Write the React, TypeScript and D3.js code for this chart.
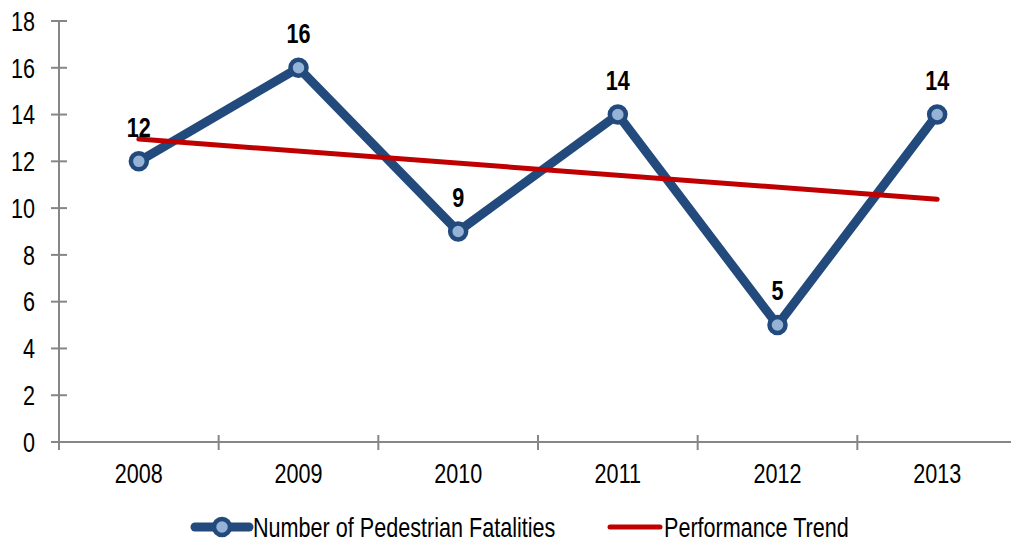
import React, { useEffect, useRef } from "react";
import * as d3 from "d3";

const years = ["2008", "2009", "2010", "2011", "2012", "2013"];
const fatalities = [12, 16, 9, 14, 5, 14];
// trend line end points (first and last year)
const trendYears = ["2008", "2013"];
const trendValues = [12.95, 10.38];
const yTicks = [0, 2, 4, 6, 8, 10, 12, 14, 16, 18];
const legendLabels = ["Number of Pedestrian Fatalities", "Performance Trend"];

const W = 1011;
const H = 542;
const FONT = "'Liberation Sans', Arial, sans-serif";
const SQUEEZE = 0.8; // fake a narrow face
const FS = 27;
const BLUE = "#234A7C";
const LIGHT = "#95B3D7";
const RED = "#C00000";
const AXIS = "#868686";

const App = () => {
  const ref = useRef<SVGSVGElement>(null);

  useEffect(() => {
    const svg = d3.select(ref.current);
    svg.selectAll("*").remove();

    const left = 59, right = 1017, top = 21, bottom = 442;
    const x = d3.scaleBand().domain(years).range([left, right]);
    const y = d3.scaleLinear().domain([0, 18]).range([bottom, top]);
    const cx = (d: string) => (x(d) as number) + x.bandwidth() / 2;

    const label = (sel: any, px: (d: any, i: number) => number, py: (d: any, i: number) => number, anchor: string) =>
      sel
        .attr("transform", (d: any, i: number) => `translate(${px(d, i)},${py(d, i)}) scale(${SQUEEZE},1)`)
        .attr("dy", "0.36em").attr("text-anchor", anchor)
        .attr("font-family", FONT).attr("font-size", FS).attr("fill", "#000");

    // y axis
    svg.append("line")
      .attr("x1", left).attr("x2", left).attr("y1", top).attr("y2", bottom)
      .attr("stroke", AXIS).attr("stroke-width", 2);
    svg.selectAll("line.ytick").data(yTicks).enter().append("line")
      .attr("class", "ytick")
      .attr("x1", left - 8).attr("x2", left + 8)
      .attr("y1", d => y(d)).attr("y2", d => y(d))
      .attr("stroke", AXIS).attr("stroke-width", 2);
    label(svg.selectAll("text.ylab").data(yTicks).enter().append("text").attr("class", "ylab"),
      () => left - 24, d => y(d), "end")
      .text((d: number) => d);

    // x axis
    svg.append("line")
      .attr("x1", left - 8).attr("x2", W).attr("y1", bottom).attr("y2", bottom)
      .attr("stroke", AXIS).attr("stroke-width", 2);
    const bounds = years.map(d => x(d) as number).concat([right]);
    svg.selectAll("line.xtick").data(bounds).enter().append("line")
      .attr("class", "xtick")
      .attr("x1", d => d).attr("x2", d => d)
      .attr("y1", bottom - 7).attr("y2", bottom + 8)
      .attr("stroke", AXIS).attr("stroke-width", 2);
    label(svg.selectAll("text.xlab").data(years).enter().append("text").attr("class", "xlab"),
      d => cx(d), () => bottom + 31, "middle")
      .text((d: string) => d);

    // series
    const line = d3.line<number>()
      .x((d, i) => cx(years[i]))
      .y(d => y(d));
    svg.append("path")
      .datum(fatalities)
      .attr("d", line)
      .attr("fill", "none").attr("stroke", BLUE)
      .attr("stroke-width", 9).attr("stroke-linejoin", "round");

    const trendLine = d3.line<number>()
      .x((d, i) => cx(trendYears[i]))
      .y(d => y(d));
    svg.append("path")
      .datum(trendValues)
      .attr("d", trendLine)
      .attr("fill", "none").attr("stroke", RED)
      .attr("stroke-width", 5).attr("stroke-linecap", "round");

    svg.selectAll("circle.pt").data(fatalities).enter().append("circle")
      .attr("class", "pt")
      .attr("cx", (d, i) => cx(years[i])).attr("cy", d => y(d))
      .attr("r", 8).attr("fill", LIGHT)
      .attr("stroke", BLUE).attr("stroke-width", 4.5);

    label(svg.selectAll("text.val").data(fatalities).enter().append("text").attr("class", "val"),
      (d, i) => cx(years[i]), d => y(d) - 34.5, "middle")
      .attr("font-size", 27).attr("font-weight", "bold")
      .text((d: number) => d);

    // legend
    const ly = 527;
    const g = svg.append("g");
    g.append("line")
      .attr("x1", 195).attr("x2", 249).attr("y1", ly).attr("y2", ly)
      .attr("stroke", BLUE).attr("stroke-width", 9).attr("stroke-linecap", "round");
    g.append("circle")
      .attr("cx", 222).attr("cy", ly).attr("r", 8)
      .attr("fill", LIGHT).attr("stroke", BLUE).attr("stroke-width", 4.5);
    label(g.append("text"), () => 253, () => ly, "start").text(legendLabels[0]);
    g.append("line")
      .attr("x1", 610).attr("x2", 660).attr("y1", ly).attr("y2", ly)
      .attr("stroke", RED).attr("stroke-width", 5).attr("stroke-linecap", "round");
    label(g.append("text"), () => 664, () => ly, "start").text(legendLabels[1]);
  }, []);

  return (
    <svg ref={ref} width={W} height={H}
      style={{ position: "absolute", left: 0, top: 0, background: "#fff" }} />
  );
};

export default App;
